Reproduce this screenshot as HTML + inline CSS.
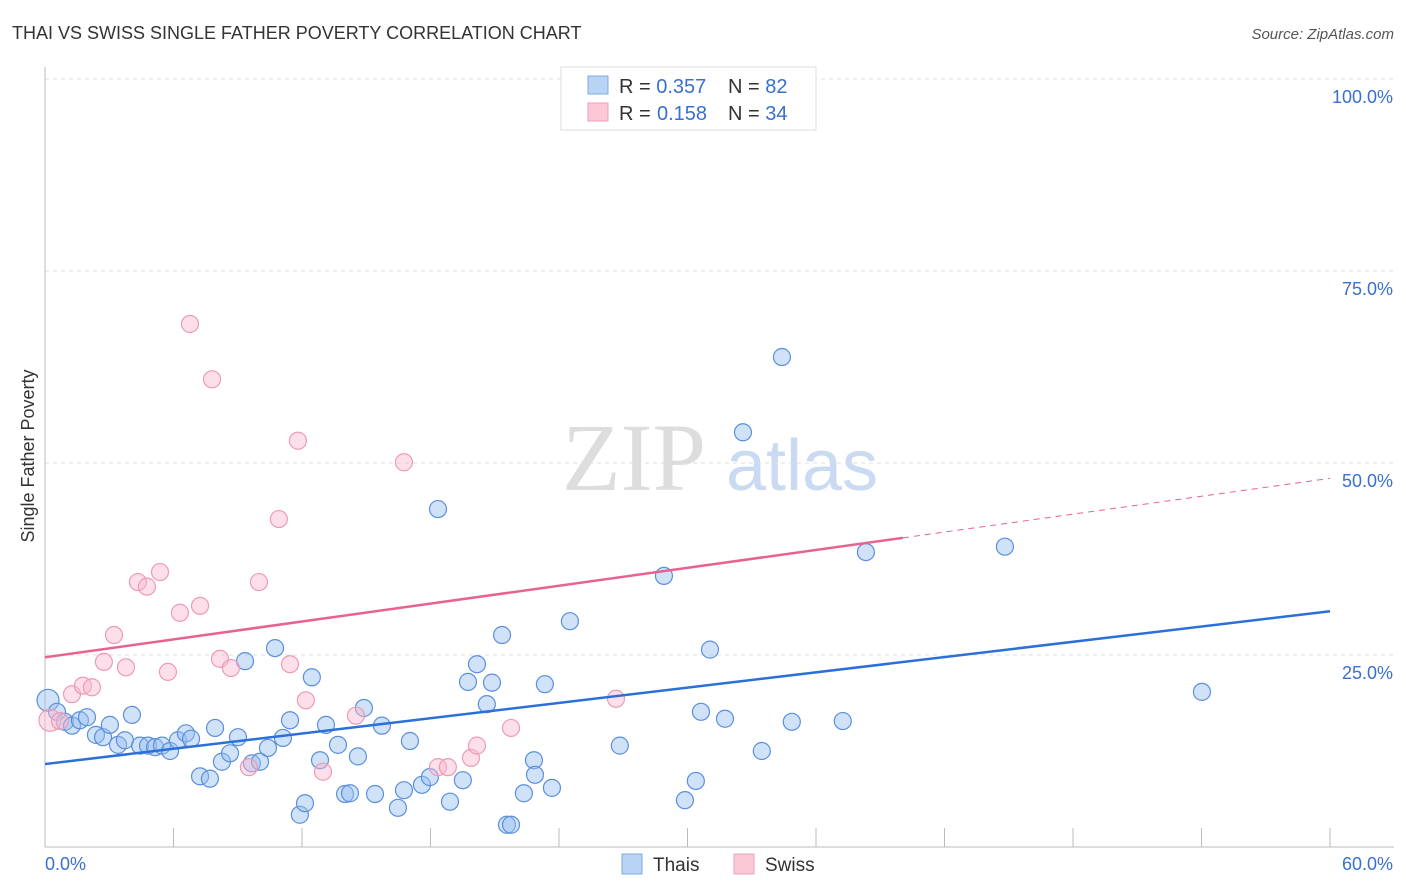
<!DOCTYPE html>
<html><head><meta charset="utf-8"><style>
body{margin:0;background:#fff;font-family:"Liberation Sans",sans-serif}
svg{display:block}
</style></head><body>
<svg id="chart" width="1406" height="892" xmlns="http://www.w3.org/2000/svg">
<text x="12" y="39" font-size="18" fill="#333">THAI VS SWISS SINGLE FATHER POVERTY CORRELATION CHART</text>
<text x="1394" y="39" font-size="15" font-style="italic" fill="#555" text-anchor="end">Source: ZipAtlas.com</text>
<g>
<text x="634" y="490" font-size="96" font-family="Liberation Serif,serif" fill="#ddd" text-anchor="middle">ZIP</text>
<text x="802" y="490" font-size="72" fill="#c9daf2" text-anchor="middle">atlas</text>
</g>
<g id="grid"></g>
<g id="axes"></g>
<g id="points"></g>
<g id="trends"></g>
<text transform="translate(34,456) rotate(-90)" font-size="18" fill="#333" text-anchor="middle">Single Father Poverty</text>
<g>
<rect x="561" y="67" width="255" height="63" fill="#fff" stroke="#ddd"/>
<rect x="588" y="76" width="20" height="18" fill="#b9d3f5" stroke="#7ea8e3"/>
<rect x="588" y="103" width="20" height="18" fill="#fac8d7" stroke="#eea0b8"/>
<text x="619" y="93" font-size="20" fill="#333">R = <tspan fill="#3a6fd0">0.357</tspan><tspan x="728">N = </tspan><tspan fill="#3a6fd0">82</tspan></text>
<text x="619" y="120" font-size="20" fill="#333">R = <tspan x="657" fill="#3a6fd0">0.158</tspan><tspan x="728">N = </tspan><tspan fill="#3a6fd0">34</tspan></text>
</g>
<g>
<rect x="622" y="854" width="20" height="20" fill="#b9d3f5" stroke="#7ea8e3"/>
<text x="653" y="871" font-size="19" fill="#333">Thais</text>
<rect x="734" y="854" width="20" height="20" fill="#fac8d7" stroke="#eea0b8"/>
<text x="765" y="871" font-size="19" fill="#333">Swiss</text>
</g>
</svg>
<script>
const yTicks=[25,50,75,100];
const yTickLabels=["25.0%","50.0%","75.0%","100.0%"];
const xTicks=[0,6,12,18,24,30,36,42,48,54,60];
const thaisX=[0.14,0.56,0.93,1.26,1.63,1.96,2.38,2.71,3.03,3.41,3.73,4.06,4.44,4.81,5.14,5.46,5.84,6.21,6.58,6.82,7.24,7.70,7.94,8.26,8.64,9.01,9.34,9.66,10.04,10.41,10.74,11.11,11.44,11.90,12.14,12.46,12.84,13.12,13.68,14.01,14.24,14.61,14.89,15.41,15.73,16.48,16.76,17.04,17.60,17.97,18.35,18.91,19.51,19.75,20.17,20.63,20.87,21.34,21.57,21.76,22.36,22.83,22.88,23.34,23.67,24.51,26.84,28.90,29.88,30.39,30.63,31.05,31.75,32.59,33.47,34.41,34.87,37.25,38.33,44.82,54.02];
const thaisY=[19.1,17.6,16.3,15.8,16.5,16.9,14.6,14.3,15.9,13.3,13.9,17.2,13.2,13.2,13.0,13.2,12.5,13.9,14.8,14.1,9.2,8.9,15.5,11.1,12.2,14.3,24.2,10.9,11.1,12.9,25.9,14.2,16.5,4.2,5.7,22.1,11.3,15.9,13.3,6.9,7.0,11.8,18.1,6.9,15.8,5.1,7.4,13.8,8.1,9.1,44.0,5.9,8.7,21.5,23.8,18.6,21.4,27.6,2.9,2.9,7.0,11.3,9.4,21.2,7.7,29.4,13.2,35.3,6.1,8.6,17.6,25.7,16.7,54.0,12.5,63.8,16.3,16.4,38.4,39.1,20.2];
const swissX=[0.23,0.70,1.26,1.77,2.19,2.75,3.22,3.78,4.34,4.76,5.37,5.74,6.30,6.77,7.24,7.80,8.17,8.68,9.52,9.99,10.92,11.44,11.81,12.18,12.98,14.52,16.76,18.35,18.81,19.89,20.17,21.76,26.66];
const swissY=[16.5,16.4,19.9,21.0,20.8,24.1,27.6,23.4,34.5,33.9,35.8,22.8,30.5,68.1,31.4,60.9,24.5,23.3,10.4,34.5,42.7,23.8,52.9,19.1,9.8,17.1,50.1,10.4,10.4,11.6,13.2,15.5,19.3];
const thaisTrend=[10.8,30.7];
const swissTrend=[24.7,48.0];
const swissSolidEnd=40.06;
const X=v=>45+v*(1285/60), Y=v=>847-v*7.68;
const NS="http://www.w3.org/2000/svg";
function mk(tag,attrs,parent){const e=document.createElementNS(NS,tag);for(const k in attrs)e.setAttribute(k,attrs[k]);document.getElementById(parent).appendChild(e);return e;}
yTicks.forEach((t,i)=>{
 const l=mk('line',{x1:45,x2:1394,y1:Y(t),y2:Y(t),stroke:'#ddd','stroke-dasharray':'4,4'},'grid');
 
 
 const tx=mk('text',{x:1393,y:Y(t)+24,'font-size':18,fill:'#3a6fd0','text-anchor':'end'},'grid');
 tx.textContent=yTickLabels[i];
 
 
});
const ya=mk('line',{x1:45,x2:45,y1:67,y2:847,stroke:'#bbb'},'axes');


const xa=mk('line',{x1:45,x2:1394,y1:847,y2:847,stroke:'#bbb'},'axes');


xTicks.forEach(t=>{if(t===0)return;
 const l=mk('line',{x1:X(t),x2:X(t),y1:828,y2:847,stroke:'#bbb'},'axes');
 
 
});
const xl0=mk('text',{x:45,y:870,'font-size':18,fill:'#3a6fd0'},'axes');xl0.textContent='0.0%';


const xl1=mk('text',{x:1393,y:870,'font-size':18,fill:'#3a6fd0','text-anchor':'end'},'axes');xl1.textContent='60.0%';


thaisX.forEach((v,i)=>{
 const c=mk('circle',{cx:X(v),cy:Y(thaisY[i]),r:i===0?11:8.5,fill:'rgba(150,190,240,0.45)',stroke:'#5b8fdc','stroke-width':1.2},'points');
 
 
});
swissX.forEach((v,i)=>{
 const c=mk('circle',{cx:X(v),cy:Y(swissY[i]),r:i===0?11:8.5,fill:'rgba(248,185,205,0.45)',stroke:'#ec9bb6','stroke-width':1.2},'points');
 
 
});
const bt=mk('line',{x1:X(0),y1:Y(thaisTrend[0]),x2:X(60),y2:Y(thaisTrend[1]),stroke:'#2b6fd8','stroke-width':2.5},'trends');


const sy=v=>swissTrend[0]+(swissTrend[1]-swissTrend[0])*v/60;
const st=mk('line',{x1:X(0),y1:Y(swissTrend[0]),x2:X(swissSolidEnd),y2:Y(sy(swissSolidEnd)),stroke:'#e8628f','stroke-width':2.5},'trends');


const sd=mk('line',{x1:X(swissSolidEnd),y1:Y(sy(swissSolidEnd)),x2:X(60),y2:Y(swissTrend[1]),stroke:'#e8628f','stroke-width':1,'stroke-dasharray':'6,5'},'trends');


</script>
</body></html>
